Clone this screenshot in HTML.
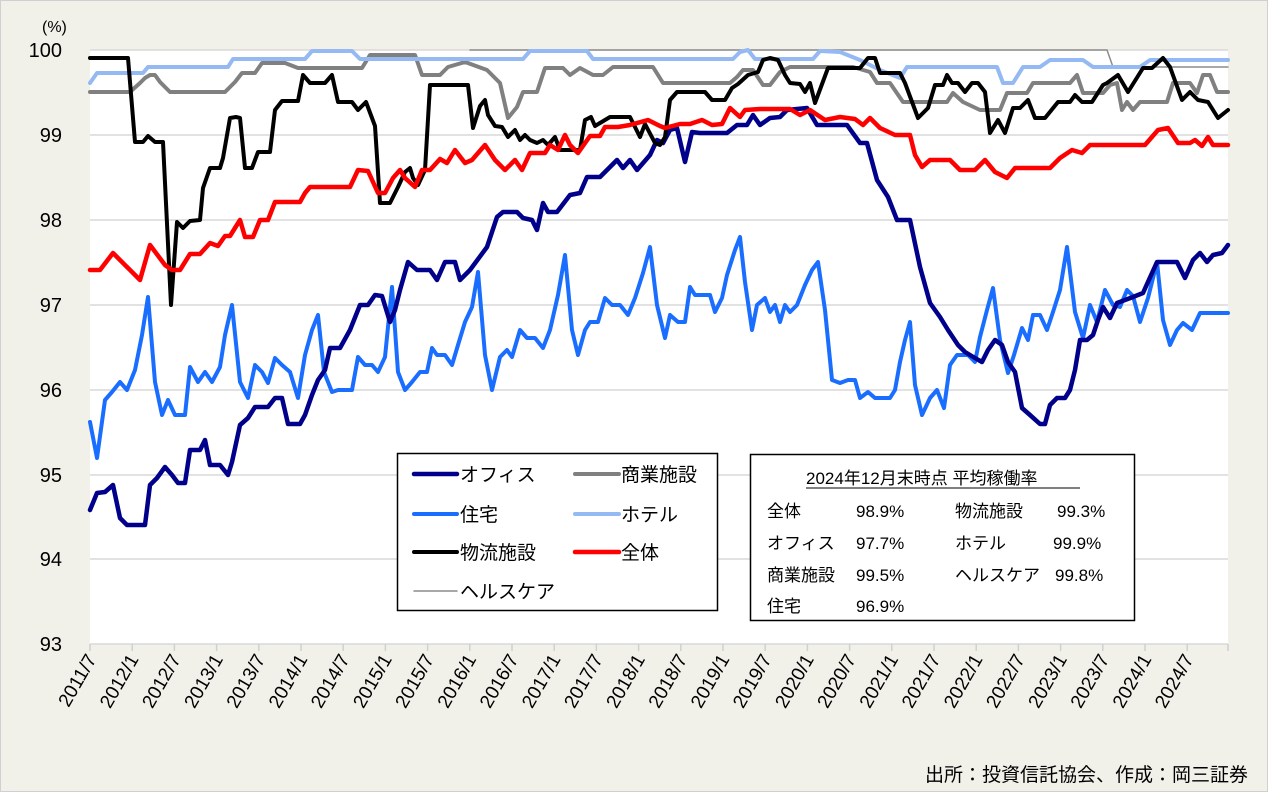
<!DOCTYPE html>
<html><head><meta charset="utf-8"><style>
html,body{margin:0;padding:0;background:#fff}
svg{display:block;font-family:"Liberation Sans","Noto Sans CJK JP",sans-serif}
</style></head><body>
<svg width="1268" height="792" viewBox="0 0 1268 792" xmlns="http://www.w3.org/2000/svg">
<rect x="0.5" y="0.5" width="1267" height="791" fill="#f2f1e9" stroke="#d0d0d0"/>
<rect x="90" y="50" width="1138" height="594" fill="#fff"/>
<g stroke="#d9d9d9" stroke-width="1.5">
<line x1="90" x2="1228" y1="50" y2="50"/><line x1="90" x2="1228" y1="135" y2="135"/>
<line x1="90" x2="1228" y1="220" y2="220"/><line x1="90" x2="1228" y1="305" y2="305"/>
<line x1="90" x2="1228" y1="390" y2="390"/><line x1="90" x2="1228" y1="475" y2="475"/>
<line x1="90" x2="1228" y1="559" y2="559"/><line x1="90" x2="1228" y1="644" y2="644"/>
</g>
<g font-size="20" fill="#000" text-anchor="end">
<text x="62" y="57">100</text><text x="62" y="142">99</text><text x="62" y="227">98</text>
<text x="62" y="312">97</text><text x="62" y="397">96</text><text x="62" y="482">95</text>
<text x="62" y="566">94</text><text x="62" y="651">93</text>
</g>
<text x="42" y="32" font-size="16">(%)</text>
<g stroke="#d0d0d0" stroke-width="1.5">
<line x1="90" x2="90" y1="644" y2="651"/><line x1="132.2" x2="132.2" y1="644" y2="651"/><line x1="174.4" x2="174.4" y1="644" y2="651"/><line x1="216.6" x2="216.6" y1="644" y2="651"/><line x1="258.8" x2="258.8" y1="644" y2="651"/><line x1="301" x2="301" y1="644" y2="651"/><line x1="343.2" x2="343.2" y1="644" y2="651"/><line x1="385.4" x2="385.4" y1="644" y2="651"/><line x1="427.6" x2="427.6" y1="644" y2="651"/><line x1="469.8" x2="469.8" y1="644" y2="651"/><line x1="512" x2="512" y1="644" y2="651"/><line x1="554.2" x2="554.2" y1="644" y2="651"/><line x1="596.4" x2="596.4" y1="644" y2="651"/><line x1="638.6" x2="638.6" y1="644" y2="651"/><line x1="680.8" x2="680.8" y1="644" y2="651"/><line x1="723" x2="723" y1="644" y2="651"/><line x1="765.2" x2="765.2" y1="644" y2="651"/><line x1="807.4" x2="807.4" y1="644" y2="651"/><line x1="849.6" x2="849.6" y1="644" y2="651"/><line x1="891.8" x2="891.8" y1="644" y2="651"/><line x1="934" x2="934" y1="644" y2="651"/><line x1="976.2" x2="976.2" y1="644" y2="651"/><line x1="1018.4" x2="1018.4" y1="644" y2="651"/><line x1="1060.6" x2="1060.6" y1="644" y2="651"/><line x1="1102.8" x2="1102.8" y1="644" y2="651"/><line x1="1145" x2="1145" y1="644" y2="651"/><line x1="1187.2" x2="1187.2" y1="644" y2="651"/><line x1="1228" x2="1228" y1="644" y2="651"/>
</g>
<g font-size="19" fill="#000" text-anchor="end">
<text x="97" y="659" transform="rotate(-60 97 659)">2011/7</text>
<text x="139.2" y="659" transform="rotate(-60 139.2 659)">2012/1</text>
<text x="181.4" y="659" transform="rotate(-60 181.4 659)">2012/7</text>
<text x="223.6" y="659" transform="rotate(-60 223.6 659)">2013/1</text>
<text x="265.8" y="659" transform="rotate(-60 265.8 659)">2013/7</text>
<text x="308" y="659" transform="rotate(-60 308 659)">2014/1</text>
<text x="350.2" y="659" transform="rotate(-60 350.2 659)">2014/7</text>
<text x="392.4" y="659" transform="rotate(-60 392.4 659)">2015/1</text>
<text x="434.6" y="659" transform="rotate(-60 434.6 659)">2015/7</text>
<text x="476.8" y="659" transform="rotate(-60 476.8 659)">2016/1</text>
<text x="519" y="659" transform="rotate(-60 519 659)">2016/7</text>
<text x="561.2" y="659" transform="rotate(-60 561.2 659)">2017/1</text>
<text x="603.4" y="659" transform="rotate(-60 603.4 659)">2017/7</text>
<text x="645.6" y="659" transform="rotate(-60 645.6 659)">2018/1</text>
<text x="687.8" y="659" transform="rotate(-60 687.8 659)">2018/7</text>
<text x="730" y="659" transform="rotate(-60 730 659)">2019/1</text>
<text x="772.2" y="659" transform="rotate(-60 772.2 659)">2019/7</text>
<text x="814.4" y="659" transform="rotate(-60 814.4 659)">2020/1</text>
<text x="856.6" y="659" transform="rotate(-60 856.6 659)">2020/7</text>
<text x="898.8" y="659" transform="rotate(-60 898.8 659)">2021/1</text>
<text x="941" y="659" transform="rotate(-60 941 659)">2021/7</text>
<text x="983.2" y="659" transform="rotate(-60 983.2 659)">2022/1</text>
<text x="1025.4" y="659" transform="rotate(-60 1025.4 659)">2022/7</text>
<text x="1067.6" y="659" transform="rotate(-60 1067.6 659)">2023/1</text>
<text x="1109.8" y="659" transform="rotate(-60 1109.8 659)">2023/7</text>
<text x="1152" y="659" transform="rotate(-60 1152 659)">2024/1</text>
<text x="1194.2" y="659" transform="rotate(-60 1194.2 659)">2024/7</text>
</g>

<g fill="none" stroke-linejoin="round" stroke-linecap="round">
<polyline stroke="#8c8c8c" stroke-width="1.5" points="470,50 1107,50 1113,67 1228,67"/>
<polyline stroke="#1a6eff" stroke-width="4" points="90,422 97,458 105,400 112,392 120,382 127,390 135,370 142,335 148,297 155,382 162,415 168,400 175,415 185,415 190,367 198,382 205,372 212,382 220,367 225,335 232,305 240,382 248,398 255,365 262,372 268,383 275,358 282,365 290,372 298,398 305,355 312,330 318,315 324,372 332,392 338,390 345,390 352,390 358,357 365,365 372,365 378,372 385,357 392,287 398,372 405,390 412,382 420,372 427,372 432,348 437,355 445,355 452,365 458,345 465,322 472,307 478,272 485,355 492,390 500,357 507,350 512,357 520,330 527,338 535,338 543,348 550,330 558,295 565,255 572,330 578,355 585,330 590,322 598,322 605,298 612,305 620,305 628,315 635,298 643,273 650,247 657,305 665,338 670,315 678,322 685,322 690,287 695,295 710,295 715,312 722,298 727,275 735,250 740,237 745,282 752,330 757,305 765,298 770,312 775,305 780,322 785,305 790,312 797,305 805,285 812,270 818,262 825,310 832,380 840,383 848,380 855,380 860,398 868,392 875,398 890,398 895,390 900,362 905,340 910,322 915,385 922,415 930,398 937,390 944,408 950,365 957,355 968,355 975,362 980,337 987,310 993,288 1000,340 1008,373 1014,355 1022,328 1028,340 1033,315 1040,315 1047,330 1053,312 1060,290 1067,247 1075,312 1083,338 1090,305 1097,322 1105,290 1113,305 1120,307 1127,290 1133,296 1140,322 1148,298 1157,262 1163,320 1170,345 1177,330 1183,323 1192,330 1200,313 1210,313 1228,313"/>
<polyline stroke="#00008b" stroke-width="4.5" points="90,510 97,493 105,492 113,485 120,518 127,525 145,525 150,485 157,478 165,467 172,475 178,483 185,483 190,450 200,450 205,440 210,465 220,465 228,475 232,462 240,425 248,418 255,407 268,407 275,398 282,398 288,424 300,424 305,415 312,395 318,380 325,370 330,348 340,348 350,330 360,305 368,305 375,295 382,296 390,322 395,310 400,290 408,262 417,270 430,270 437,280 445,262 455,262 460,280 470,270 487,247 497,217 503,212 517,212 523,218 532,220 537,230 543,203 548,212 557,212 570,195 580,193 587,177 600,177 617,160 623,168 630,160 637,170 650,155 657,140 663,143 670,130 677,128 685,162 692,132 700,133 727,133 737,125 747,125 753,115 760,125 770,118 780,117 787,110 807,108 817,125 847,125 860,143 867,143 877,180 888,197 897,220 910,220 920,267 930,303 940,317 948,330 958,345 965,352 975,358 982,362 988,350 995,340 1002,345 1008,362 1015,372 1022,408 1030,415 1040,424 1045,424 1050,405 1057,398 1065,398 1070,390 1075,370 1080,340 1087,340 1093,335 1098,320 1103,307 1110,318 1117,303 1133,297 1143,293 1157,262 1177,262 1185,278 1193,260 1200,253 1207,262 1213,255 1222,253 1228,245"/>
<polyline stroke="#808080" stroke-width="4" points="90,92 130,92 140,83 145,78 150,75 155,75 160,82 170,92 225,92 235,82 242,73 255,73 262,63 285,63 298,68 362,68 370,55 415,55 422,75 440,75 448,67 465,62 487,70 500,83 508,118 517,107 523,92 537,92 545,68 563,68 570,75 580,68 593,75 603,75 613,67 653,67 663,83 730,83 737,77 743,70 753,70 763,85 770,85 780,72 790,67 853,67 870,72 877,83 890,83 903,102 947,102 953,93 963,102 980,110 1000,110 1007,93 1027,93 1033,83 1070,83 1077,75 1083,93 1103,93 1110,85 1117,83 1122,110 1127,102 1133,110 1140,102 1167,102 1173,83 1190,83 1197,93 1203,75 1210,75 1217,92 1228,92"/>
<polyline stroke="#95b9f2" stroke-width="4" points="90,83 97,73 143,73 148,67 228,67 233,59 305,59 312,51 352,51 360,59 523,59 530,51 587,51 593,59 733,59 740,52 748,50 755,59 813,59 820,51 840,52 860,60 880,70 900,78 907,67 997,67 1003,83 1013,83 1023,67 1040,67 1050,60 1083,60 1093,67 1140,67 1150,60 1228,60"/>
<polyline stroke="#000" stroke-width="4" points="90,58 128,58 135,142 143,142 148,136 155,142 163,142 171,305 177,222 183,228 190,221 200,220 203,188 210,168 220,168 223,158 230,118 236,117 240,118 245,168 252,168 258,152 270,152 275,110 282,101 298,101 303,75 310,83 325,83 332,75 338,102 352,102 358,110 366,102 375,126 380,203 390,203 398,187 405,172 410,168 413,178 418,185 425,170 430,85 468,85 473,128 480,106 485,100 488,115 495,126 502,127 508,137 515,130 520,140 525,135 530,140 537,143 543,140 548,145 555,137 560,150 580,150 585,120 591,117 595,126 610,117 630,117 640,137 645,124 655,143 660,145 665,137 670,100 677,92 705,92 712,100 725,100 732,88 738,84 748,75 758,72 763,60 770,58 778,60 785,75 790,83 800,84 805,92 810,83 815,103 828,68 860,68 868,58 875,58 880,73 900,73 905,83 918,118 928,108 935,85 943,85 947,75 952,83 958,83 965,92 972,83 978,83 985,92 990,133 998,120 1005,133 1013,108 1020,108 1028,100 1035,118 1045,118 1058,102 1070,102 1075,95 1082,102 1092,102 1103,85 1107,83 1118,75 1128,92 1143,68 1152,68 1163,58 1170,67 1182,100 1190,92 1198,100 1208,102 1218,118 1228,110"/>
<polyline stroke="#ff0000" stroke-width="4.5" points="90,270 100,270 113,253 128,268 140,280 150,245 165,265 172,270 180,270 190,254 200,254 210,243 218,246 225,236 230,236 240,220 245,237 253,237 260,220 268,220 275,202 300,202 305,193 310,187 350,187 358,170 368,171 378,193 385,193 393,178 400,170 405,178 415,187 422,170 430,170 440,159 447,163 455,150 465,163 472,160 485,145 495,160 505,170 515,160 522,170 530,153 545,153 550,145 558,150 565,135 570,145 578,153 590,136 600,136 605,127 618,127 630,125 648,120 660,126 665,128 680,124 690,124 702,120 712,125 722,124 730,108 740,117 745,110 760,109 790,109 800,115 810,110 825,120 840,117 855,119 863,125 870,118 880,128 895,135 910,135 915,155 922,167 930,160 950,160 960,170 975,170 985,160 995,172 1007,178 1015,168 1050,168 1060,158 1072,150 1082,153 1090,145 1145,145 1158,130 1168,128 1178,143 1190,143 1195,140 1202,146 1208,137 1213,145 1228,145"/>
</g>

<rect x="397.5" y="453.5" width="320" height="157" fill="#fff" stroke="#000" stroke-width="1.5"/>
<g stroke-linecap="round">
<line x1="414" x2="457" y1="474" y2="474" stroke="#00008b" stroke-width="4.5"/>
<line x1="575" x2="619" y1="474" y2="474" stroke="#808080" stroke-width="4"/>
<line x1="414" x2="457" y1="514" y2="514" stroke="#1a6eff" stroke-width="4"/>
<line x1="575" x2="619" y1="514" y2="514" stroke="#95b9f2" stroke-width="4"/>
<line x1="414" x2="457" y1="552" y2="552" stroke="#000" stroke-width="4"/>
<line x1="575" x2="619" y1="552" y2="552" stroke="#ff0000" stroke-width="4.5"/>
<line x1="414" x2="457" y1="591" y2="591" stroke="#8c8c8c" stroke-width="1.5"/>
</g>
<g font-size="19" fill="#000">
<text x="460" y="481">オフィス</text><text x="621" y="481">商業施設</text>
<text x="460" y="521">住宅</text><text x="621" y="521">ホテル</text>
<text x="460" y="559">物流施設</text><text x="621" y="559">全体</text>
<text x="460" y="598">ヘルスケア</text>
</g>

<rect x="750.5" y="454.5" width="384" height="166" fill="#fff" stroke="#000" stroke-width="1.5"/>
<g font-size="17" fill="#000">
<text x="806" y="484">2024年12月末時点 平均稼働率</text>
<line x1="806" x2="1080" y1="488" y2="488" stroke="#000" stroke-width="1"/>
<text x="767" y="517">全体</text><text x="856" y="517">98.9%</text>
<text x="955" y="517">物流施設</text><text x="1057" y="517">99.3%</text>
<text x="767" y="549">オフィス</text><text x="856" y="549">97.7%</text>
<text x="955" y="549">ホテル</text><text x="1053" y="549">99.9%</text>
<text x="767" y="581">商業施設</text><text x="856" y="581">99.5%</text>
<text x="955" y="581">ヘルスケア</text><text x="1055" y="581">99.8%</text>
<text x="767" y="612">住宅</text><text x="856" y="612">96.9%</text>
</g>
<text x="1248" y="781" font-size="19" text-anchor="end">出所：投資信託協会、作成：岡三証券</text>
</svg>
</body></html>
